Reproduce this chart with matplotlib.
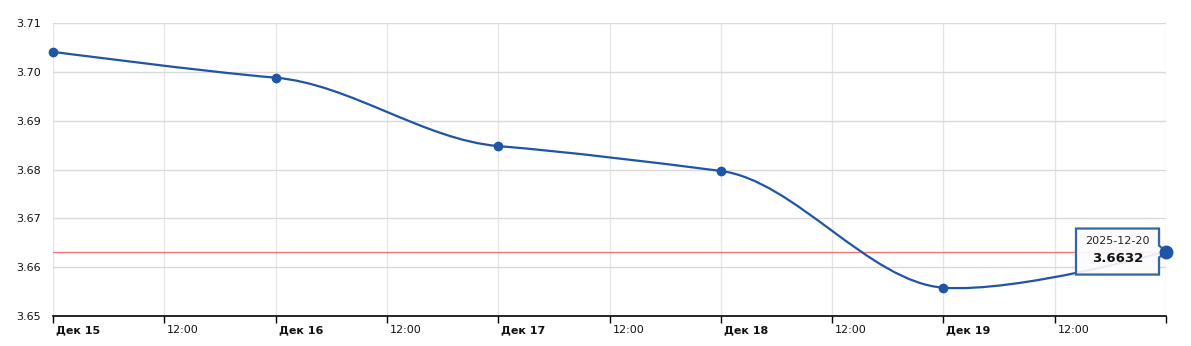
import numpy as np
import matplotlib
matplotlib.use("Agg")
import matplotlib.pyplot as plt
from matplotlib.path import Path
from matplotlib.patches import PathPatch, Polygon
import matplotlib.transforms as mtransforms

# ---- data ----
days = [0, 1, 2, 3, 4, 5]  # days since Dec 15
values = [3.7041, 3.6988, 3.6848, 3.6797, 3.6558, 3.6632]
tick_positions = [0, 0.5, 1, 1.5, 2, 2.5, 3, 3.5, 4, 4.5, 5]
tick_labels = ["Дек 15", "12:00", "Дек 16", "12:00", "Дек 17", "12:00",
               "Дек 18", "12:00", "Дек 19", "12:00", ""]
yticks = [3.65, 3.66, 3.67, 3.68, 3.69, 3.70, 3.71]
ref_value = 3.6632
tooltip_date = "2025-12-20"
tooltip_value = "3.6632"

LINE = "#1f55a3"


def smooth_path(xs, ys, k=0.4):
    n = len(xs)
    tang = [None] * n
    for i in range(1, n - 1):
        tang[i] = k * (ys[i + 1] - ys[i - 1]) / (xs[i + 1] - xs[i - 1])
    verts = [(xs[0], ys[0])]
    codes = [Path.MOVETO]
    for i in range(n - 1):
        h = xs[i + 1] - xs[i]
        if tang[i] is None:
            c1 = (xs[i], ys[i])
        else:
            c1 = (xs[i] + h / 3, ys[i] + tang[i] * h / 3)
        if tang[i + 1] is None:
            c2 = (xs[i + 1], ys[i + 1])
        else:
            c2 = (xs[i + 1] - h / 3, ys[i + 1] - tang[i + 1] * h / 3)
        verts += [c1, c2, (xs[i + 1], ys[i + 1])]
        codes += [Path.CURVE4] * 3
    return Path(verts, codes)


fig = plt.figure(figsize=(11.91, 3.46), dpi=100)
ax = fig.add_axes([53 / 1191, 1 - 316 / 346, (1166 - 53) / 1191, (316 - 23) / 346])

ax.set_xlim(0, 5)
ax.set_ylim(3.65, 3.71)

# grid
for t in tick_positions:
    ax.axvline(t, color="#e6e6e6", lw=1, zorder=0)
for y in yticks[1:]:
    ax.axhline(y, color="#d9d9d9", lw=1, zorder=0)

ax.axhline(ref_value, color="#f07878", lw=1, zorder=1)

path = smooth_path(days, values)
ax.add_patch(PathPatch(path, facecolor="none", edgecolor=LINE, lw=1.6, zorder=3,
                       transform=ax.transData, clip_on=False))
ax.plot(days[:-1], values[:-1], "o", color=LINE, ms=6, zorder=4, clip_on=False)
ax.plot(days[-1:], values[-1:], "o", color=LINE, ms=9, zorder=6, clip_on=False)

for s in ["top", "right", "left"]:
    ax.spines[s].set_visible(False)
ax.spines["bottom"].set_color("black")
ax.spines["bottom"].set_linewidth(1.2)

# x ticks, labels left-aligned just right of each tick
ax.set_xticks(tick_positions)
ax.set_xticklabels([""] * len(tick_positions))
ax.tick_params(axis="x", direction="out", length=5, width=1, color="black")
lab_trans = ax.get_xaxis_transform() + mtransforms.ScaledTranslation(
    3 / 100, -9 / 100, fig.dpi_scale_trans)
for t, txt in zip(tick_positions, tick_labels):
    ax.text(t, 0, txt, transform=lab_trans, ha="left", va="top", fontsize=8,
            fontweight="bold" if txt.startswith("Дек") else "normal",
            color="#111111")

ax.set_yticks(yticks)
ax.set_yticklabels([f"{v:.2f}" for v in yticks])
ax.tick_params(axis="y", length=0, pad=9, labelsize=8, labelcolor="#111111")

# tooltip drawn in pixel offsets around the last point
anchor = mtransforms.ScaledTranslation(days[-1], values[-1], ax.transData)
ptrans = mtransforms.IdentityTransform() + anchor
L, R, T, B = -90, -7, 23, -23
shape = [(L, T), (R, T), (R, 6), (0, 0), (R, -6), (R, B), (L, B)]
shadow = Polygon([(x + 1.5, y - 1.5) for x, y in shape], closed=True,
                 facecolor=(0, 0, 0, 0.08), edgecolor="none", zorder=5,
                 transform=ptrans, clip_on=False)
ax.add_patch(shadow)
poly = Polygon(shape, closed=True, facecolor=(1, 1, 1, 0.9), edgecolor="#3566a4",
               lw=1.6, zorder=5, transform=ptrans, clip_on=False)
ax.add_patch(poly)
xc = (L + R) / 2
ax.text(xc, 11, tooltip_date, ha="center", va="center", fontsize=8,
        color="#222222", zorder=7, transform=ptrans)
ax.text(xc, -7, tooltip_value, ha="center", va="center", fontsize=9.5,
        fontweight="bold", color="#111111", zorder=7, transform=ptrans)

fig.savefig("out.png", dpi=100)
